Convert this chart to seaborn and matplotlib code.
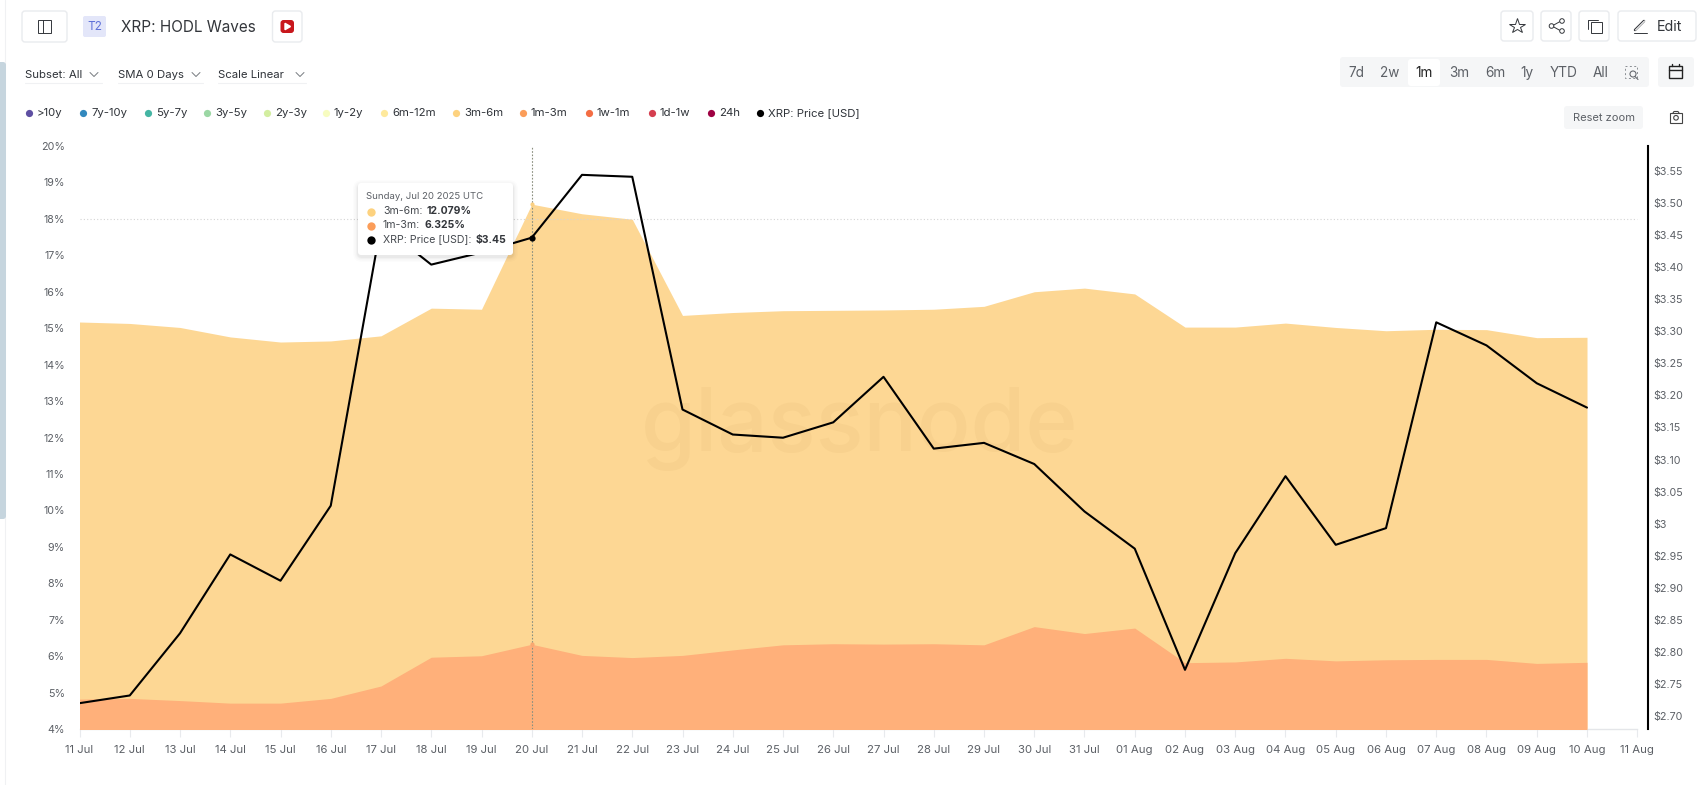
import matplotlib
matplotlib.use("Agg")
import matplotlib.pyplot as plt
import matplotlib.dates as mdates
from matplotlib.patches import FancyBboxPatch, Rectangle, Circle
import numpy as np
import pandas as pd
import seaborn as sns

sns.set_theme(style="white")
plt.rcParams['font.family'] = ['Inter', 'DejaVu Sans']

# ---------- data ----------
start_date = "2025-07-11"
m1_3 = [4.82, 4.84, 4.78, 4.71, 4.71, 4.84, 5.18, 5.97, 6.01, 6.325, 6.02,
        5.96, 6.02, 6.17, 6.31, 6.34, 6.33, 6.34, 6.31, 6.81, 6.62, 6.77,
        5.82, 5.84, 5.94, 5.87, 5.90, 5.91, 5.91, 5.80, 5.83]
m3_6 = [10.35, 10.29, 10.24, 10.05, 9.91, 9.81, 9.61, 9.58, 9.51, 12.079, 12.12,
        12.03, 9.33, 9.26, 9.17, 9.15, 9.17, 9.18, 9.29, 9.19, 9.48, 9.17,
        9.21, 9.19, 9.20, 9.15, 9.03, 9.06, 9.05, 8.94, 8.92]
price = [2.720, 2.732, 2.829, 2.952, 2.911, 3.028, 3.466, 3.404, 3.423, 3.446, 3.544,
         3.541, 3.178, 3.139, 3.134, 3.158, 3.229, 3.117, 3.126, 3.093, 3.019, 2.961,
         2.772, 2.954, 3.074, 2.967, 2.993, 3.314, 3.278, 3.219, 3.181]
x_tick_labels = ["11 Jul", "12 Jul", "13 Jul", "14 Jul", "15 Jul", "16 Jul", "17 Jul", "18 Jul",
                 "19 Jul", "20 Jul", "21 Jul", "22 Jul", "23 Jul", "24 Jul", "25 Jul", "26 Jul",
                 "27 Jul", "28 Jul", "29 Jul", "30 Jul", "31 Jul", "01 Aug", "02 Aug", "03 Aug",
                 "04 Aug", "05 Aug", "06 Aug", "07 Aug", "08 Aug", "09 Aug", "10 Aug", "11 Aug"]
pct_ticks = list(range(4, 21))
usd_ticks = [2.70, 2.75, 2.80, 2.85, 2.90, 2.95, 3.00, 3.05, 3.10, 3.15, 3.20, 3.25, 3.30, 3.35, 3.40, 3.45, 3.50, 3.55]
usd_labels = ["$2.70", "$2.75", "$2.80", "$2.85", "$2.90", "$2.95", "$3", "$3.05", "$3.10", "$3.15",
              "$3.20", "$3.25", "$3.30", "$3.35", "$3.40", "$3.45", "$3.50", "$3.55"]
legend_names = [">10y", "7y-10y", "5y-7y", "3y-5y", "2y-3y", "1y-2y", "6m-12m", "3m-6m",
                "1m-3m", "1w-1m", "1d-1w", "24h", "XRP: Price [USD]"]
legend_colors = ["#5e4fa2", "#3288bd", "#44b5a3", "#9bd7a4", "#d3eea0", "#f7fcc0", "#fee99c", "#fdd27f",
                 "#fb9d59", "#f46d43", "#d53e4f", "#9e0142", "#000000"]

W, H = 1708, 785
TXT = "#2f3339"
GREY = "#5c6066"
BORDER = "#e9ebee"
PANEL = "#f5f6f7"

df = pd.DataFrame({"date": pd.date_range(start_date, periods=len(price), freq="D"),
                   "m1_3": m1_3, "m3_6": m3_6, "price": price})
df["top"] = df["m1_3"] + df["m3_6"]

fig = plt.figure(figsize=(W / 100, H / 100), dpi=100, facecolor="white")
L, R, T, B = 79.5, 1648, 146, 729
ax = fig.add_axes([L / W, (H - B) / H, (R - L) / W, (B - T) / H])
d0 = df["date"].iloc[0]
px_per_day = 50.25

# areas
ax.fill_between(df["date"], 0, df["top"], color="#fdd794", lw=0, zorder=2)
ax.fill_between(df["date"], 0, df["m1_3"], color="#ffb07a", lw=0, zorder=3)
ax.set_ylim(4, 20)
ax.set_xlim(d0, d0 + pd.Timedelta(days=(R - L) / px_per_day))
ax.set_yticks(pct_ticks)
ax.set_yticklabels([f"{v}%" for v in pct_ticks])
tick_dates = pd.date_range(start_date, periods=len(x_tick_labels), freq="D")
ax.set_xticks(tick_dates)
ax.set_xticklabels(x_tick_labels)
ax.tick_params(axis="y", length=0, pad=10.5, labelsize=7.7, labelcolor=GREY)
ax.tick_params(axis="x", length=5.5, width=0.8, color="#e8eaed", pad=6, labelsize=8.2, labelcolor=GREY, bottom=True)
for s in ["top", "left", "right"]:
    ax.spines[s].set_visible(False)
ax.spines["bottom"].set_color("#e4e6e9")
ax.spines["bottom"].set_linewidth(1)
ax.spines["bottom"].set_bounds(mdates.date2num(d0), mdates.date2num(tick_dates[-1]))
ax.grid(False)

# crosshair
ax.axvline(df["date"].iloc[9], color="#8a8f7f", lw=0.8, ls=(0, (1.5, 1.5)), zorder=4)
ax.plot([d0, tick_dates[-1]], [18.0, 18.0], color="#d4d4d4", lw=0.8, ls=(0, (1, 2)), zorder=4)
ax.plot(df["date"].iloc[9], df["top"].iloc[9], "o", ms=3, color="#fbd083", mew=0, zorder=5)
ax.plot(df["date"].iloc[9], df["m1_3"].iloc[9], "o", ms=3, color="#f9a871", mew=0, zorder=5)

# watermark
ax.text(0.4975, 0.515, "glassnode", transform=ax.transAxes, ha="center", va="center", fontsize=64,
        color="#a06a20", alpha=0.05, family=["Inter", "DejaVu Sans"], weight="medium", zorder=4)

# price
ax2 = ax.twinx()
ax2.patch.set_visible(False)
sns.lineplot(data=df, x="date", y="price", ax=ax2, color="black", lw=1.5, estimator=None, zorder=6)
ax2.plot(df["date"].iloc[9], df["price"].iloc[9], "o", ms=4.5, color="black", mew=0, zorder=7)
ax2.set_ylim(2.70 - (B - 716) / 641.2, 3.55 + (171 - T) / 641.2)
ax2.set_yticks(usd_ticks)
ax2.set_yticklabels(usd_labels)
ax2.set_xlabel("")
ax2.set_ylabel("")
ax2.tick_params(axis="y", length=0, pad=3.5, labelsize=7.7, labelcolor=GREY)
for s in ["top", "left", "bottom"]:
    ax2.spines[s].set_visible(False)
ax2.spines["right"].set_color("black")
ax2.spines["right"].set_linewidth(1.5)
ax2.grid(False)

# ---------- page chrome, in pixel coordinates ----------
ui = fig.add_axes([0, 0, 1, 1], zorder=10)
ui.set_xlim(0, W)
ui.set_ylim(H, 0)
ui.axis("off")
ui.patch.set_visible(False)


def box(x0, y0, x1, y1, fc="white", ec=BORDER, r=3, lw=1, z=2, **kw):
    p = FancyBboxPatch((x0 + r, y0 + r), x1 - x0 - 2 * r, y1 - y0 - 2 * r,
                       boxstyle=f"round,pad={r},rounding_size={r}", fc=fc, ec=ec, lw=lw, zorder=z, **kw)
    ui.add_patch(p)


def line(xs, ys, c="#33363b", lw=1, z=4):
    ui.plot(xs, ys, color=c, lw=lw, zorder=z, solid_capstyle="round")


def txt(x, y, s, size=8.2, c=TXT, ha="left", weight="normal", z=5):
    return ui.text(x, y, s, fontsize=size, color=c, ha=ha, va="center", weight=weight, zorder=z)


def chevron(x, y):
    line([x - 4, x, x + 4], [y - 2, y + 2, y - 2], c="#777b80", lw=0.7)


# sidebar strip
line([5.5, 5.5], [0, H], c="#f0f1f3", lw=0.8, z=1)
box(-6, 62, 6, 519, fc="#c6d5de", ec="none", r=3, z=2)

# header
box(22, 11, 67, 42)
ui.add_patch(Rectangle((38.5, 20), 13, 13, fc="none", ec="#33363b", lw=0.7, zorder=4))
line([43, 43], [20, 33], lw=0.7)
box(83, 16, 106, 37, fc="#e3e6f9", ec="none", r=2)
txt(94.5, 26.5, "T2", size=8.5, c="#5f71d8", ha="center")
txt(121.5, 27.5, "XRP: HODL Waves", size=11.0, c="#33363b")
box(272.5, 11, 302, 42)
box(280.5, 20, 294, 33, fc="#c8171c", ec="none", r=3, z=3)
ui.fill([285, 285, 290.5], [23.3, 29.7, 26.5], color="white", zorder=4)

# top-right buttons
box(1501, 11, 1533, 41)
ui.plot([1517], [26], marker="*", ms=11.5, mfc="none", mec="#33363b", mew=0.7, zorder=4)
box(1541, 11, 1571, 41)
line([1561, 1552, 1561], [21, 26, 31], lw=0.7)
for cx, cy in [(1562, 21), (1551.5, 26), (1562, 31)]:
    ui.add_patch(Circle((cx, cy), 2.3, fc="white", ec="#33363b", lw=0.7, zorder=5))
box(1579, 11, 1609, 41)
ui.add_patch(Rectangle((1591, 22), 11, 11, fc="none", ec="#33363b", lw=0.7, zorder=4))
line([1588, 1588, 1598], [29, 19.5, 19.5], lw=0.7)
box(1618, 11, 1696, 41)
line([1635, 1644], [30, 21], lw=1.8)
line([1635.5, 1644.5], [30, 21], c="white", lw=0.8, z=5)
line([1634, 1647], [33, 33], lw=0.7)
txt(1657, 27, "Edit", size=10.3, c="#33363b")

# filters
for x0, x1, label, cx in [(25, 102, "Subset: All", 94), (118, 203, "SMA 0 Days", 196), (218, 306, "Scale Linear", 300)]:
    txt(x0, 75, label, size=8.2)
    chevron(cx, 74.5)
    line([x0, x1], [83, 83], c="#f0f1f3", lw=0.8)

# range selector
box(1340, 57, 1649, 87, fc=PANEL, ec="none", r=3)
box(1408, 59, 1440, 86, fc="white", ec="none", r=3, z=3)
for cx, s, c in [(1356, "7d", GREY), (1390, "2w", GREY), (1424, "1m", "#222"), (1459, "3m", GREY),
                 (1495, "6m", GREY), (1527, "1y", GREY), (1564, "YTD", GREY), (1601, "All", GREY)]:
    txt(cx, 73, s, size=9.8, c=c, ha="center")
ui.add_patch(Rectangle((1625, 66), 12, 12, fc="none", ec="#8a8e93", lw=0.7, ls=(0, (2, 2.5)), zorder=4))
ui.add_patch(Circle((1633, 74), 3, fc=PANEL, ec="#666a70", lw=0.8, zorder=5))
line([1635, 1638], [76.5, 79.5], c="#666a70", lw=0.8, z=5)
box(1658, 57, 1694, 87, fc=PANEL, ec="none", r=3)
ui.add_patch(Rectangle((1669, 66), 13, 12, fc="none", ec="#222", lw=1.0, zorder=4))
line([1669, 1682], [69.5, 69.5], c="#222", lw=1.0)
line([1672, 1672], [64, 66], c="#222", lw=1.0)
line([1679, 1679], [64, 66], c="#222", lw=1.0)

# legend
legend_dot_x = [29, 83, 148, 207, 267, 326, 384, 456, 523, 589, 652, 711, 760]
for dx, name, col in zip(legend_dot_x, legend_names, legend_colors):
    ui.plot([dx], [113], "o", ms=5.2, color=col, mew=0, zorder=4)
    txt(dx + 8, 113, name, size=8.2)

# reset zoom & camera
box(1564, 106, 1643, 129, fc=PANEL, ec="none", r=3)
txt(1604, 118, "Reset zoom", size=8, c=GREY, ha="center")
ui.add_patch(Rectangle((1670, 113), 12, 9.5, fc="none", ec="#444", lw=0.8, zorder=4))
ui.add_patch(Circle((1676, 117.8), 2.3, fc="none", ec="#444", lw=0.8, zorder=4))
line([1673, 1674, 1678, 1679], [113, 111.5, 111.5, 113], c="#444", lw=0.8)

# tooltip
for g, a in [(5, 0.012), (3.5, 0.018), (2, 0.025), (1, 0.03)]:
    box(358 - g, 183 - g + 2, 513 + g, 255 + g + 2, fc="black", ec="none", r=4 + g, z=7, alpha=a)
box(358, 183, 513, 255, fc="white", ec="none", r=3, z=8)
txt(366, 196.5, "Sunday, Jul 20 2025 UTC", size=6.9, c=GREY, z=9)
renderer = fig.canvas.get_renderer()
for y, col, label, val in [(211.5, "#fdd27f", "3m-6m:", "12.079%"),
                           (225.5, "#fb9d59", "1m-3m:", "6.325%"),
                           (239.5, "#000000", "XRP: Price [USD]:", "$3.45")]:
    ui.plot([371], [y], "o", ms=6, color=col, mew=0, zorder=9)
    t = txt(383, y, label, size=7.6, c="#45494f", z=9)
    bb = t.get_window_extent(renderer)
    txt(383 + bb.width + 4, y, val, size=7.5, c="#33363b", weight="bold", z=9)

fig.savefig("out.png", dpi=100, facecolor="white")
